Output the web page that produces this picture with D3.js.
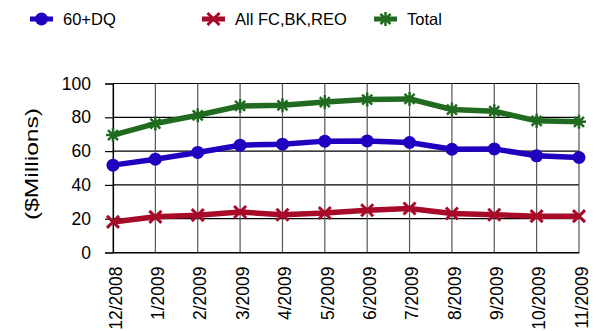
<!DOCTYPE html>
<html><head><meta charset="utf-8">
<script src="https://cdn.jsdelivr.net/npm/d3@7"></script>
<style>body{margin:0;background:#fff}svg{display:block;font-family:"Liberation Sans",Arial,sans-serif}</style>
</head><body><svg id="c" width="596" height="331"></svg>
<script>
const categories = ["12/2008","1/2009","2/2009","3/2009","4/2009","5/2009","6/2009","7/2009","8/2009","9/2009","10/2009","11/2009"];
const dq60 = [51.7,55.2,59.2,63.5,64.1,65.9,66.0,65.1,61.1,61.3,57.2,56.2];
const fcBkReo = [18.1,21.1,22.1,24.0,22.3,23.4,25.0,26.0,23.1,22.3,21.5,21.5];
const total = [69.5,76.3,81.2,86.7,87.1,89.0,90.5,90.9,84.6,83.6,77.9,77.3];
const yTicks = [0,20,40,60,80,100];
const seriesNames = ["60+DQ","All FC,BK,REO","Total"];
const seriesColors = ["#2200C0","#A80A2A","#216B21"];

const svg = d3.select("#c");
const x = d3.scalePoint().domain(categories).range([113,579]);
const y = d3.scaleLinear().domain([0,100]).range([252.5,83.5]);

// horizontal gridlines
svg.append("g").selectAll("line").data(yTicks).join("line")
  .attr("x1",113).attr("x2",579).attr("y1",d=>y(d)).attr("y2",d=>y(d))
  .attr("stroke","#000").attr("stroke-width",1.2);
// vertical gridlines
svg.append("g").selectAll("line").data(categories).join("line")
  .attr("x1",d=>x(d)).attr("x2",d=>x(d)).attr("y1",y(100)).attr("y2",y(0))
  .attr("stroke","#555").attr("stroke-width",1.2);

// y axis
const yAxis = d3.axisLeft(y).tickValues(yTicks).tickSize(8).tickPadding(14);
const ga = svg.append("g").attr("transform","translate(113,0)").call(yAxis);
ga.select(".domain").attr("stroke","#000").attr("stroke-width",1.2);
ga.selectAll(".tick line").attr("stroke","#000").attr("stroke-width",1.2);
ga.selectAll("text").attr("font-size",17.5).attr("fill","#000").attr("font-family","Liberation Sans, Arial, sans-serif");

// x axis labels
const xAxis = d3.axisBottom(x).tickSize(0).tickPadding(0);
const gx = svg.append("g").attr("transform",`translate(0,${y(0)})`).call(xAxis);
gx.select(".domain").attr("stroke","#000").attr("stroke-width",1.2);
gx.selectAll("text").attr("font-size",17.5).attr("fill","#000")
  .attr("font-family","Liberation Sans, Arial, sans-serif")
  .attr("text-anchor","end").attr("transform","rotate(-90)")
  .attr("x",-14).attr("y",0).attr("dy","0.47em").attr("dx",0);

// y label
svg.append("text").attr("transform","translate(38,164) rotate(-90)")
  .attr("text-anchor","middle").attr("font-size",19)
  .attr("textLength",112).attr("lengthAdjust","spacingAndGlyphs").text("($Millions)");

const data = [dq60, fcBkReo, total];
const line = d3.line().x((d,i)=>x(categories[i])).y(d=>y(d));

function marker(g, type, color){
  if(type===0){
    g.append("circle").attr("r",6.5).attr("fill",color);
  } else if(type===1){
    g.append("path").attr("d","M-6,-6L6,6M-6,6L6,-6").attr("stroke",color).attr("stroke-width",3);
  } else {
    g.append("path").attr("d","M-7,0L7,0M0,-7L0,7M-5,-5L5,5M-5,5L5,-5").attr("stroke",color).attr("stroke-width",2.5);
  }
}

data.forEach((s,k)=>{
  svg.append("path").datum(s).attr("d",line).attr("fill","none")
    .attr("stroke",seriesColors[k]).attr("stroke-width",5.5).attr("stroke-linejoin","round");
  s.forEach((v,i)=>{
    const g = svg.append("g").attr("transform",`translate(${x(categories[i])},${y(v)})`);
    marker(g,k,seriesColors[k]);
  });
});

// legend
const legX = [30,202,374];
seriesNames.forEach((n,k)=>{
  const lg = svg.append("g").attr("transform",`translate(${legX[k]},19)`);
  lg.append("line").attr("x1",0).attr("x2",23).attr("stroke",seriesColors[k]).attr("stroke-width",5);
  const m = lg.append("g").attr("transform","translate(11.5,0)");
  marker(m,k,seriesColors[k]);
  lg.append("text").attr("x",33).attr("dy","0.35em").attr("font-size",16.5).text(n);
});
</script></body></html>
